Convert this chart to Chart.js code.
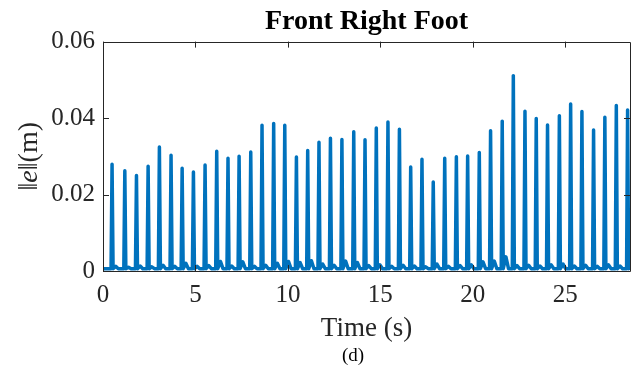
<!DOCTYPE html>
<html>
<head>
<meta charset="utf-8">
<script src="https://cdn.jsdelivr.net/npm/chart.js@4/dist/chart.umd.min.js"></script>
<style>
  html, body { margin: 0; padding: 0; background: #fff; }
  #wrap { width: 643px; height: 379px; }
</style>
</head>
<body>
<div id="wrap"><canvas id="chart" width="643" height="379"></canvas></div>
<script>
// peak times (s) and heights (m)
var peakTimes = [0.49, 1.18, 1.81, 2.44, 3.05, 3.68, 4.28, 4.89, 5.52, 6.15, 6.76, 7.36, 7.99, 8.60, 9.23,
  9.83, 10.46, 11.07, 11.68, 12.30, 12.92, 13.56, 14.17, 14.78, 15.41, 16.03, 16.64, 17.25, 17.86, 18.48,
  19.11, 19.72, 20.35, 20.96, 21.59, 22.19, 22.82, 23.43, 24.04, 24.68, 25.29, 25.90, 26.53, 27.14, 27.76, 28.37];
var peakValues = [0.0279, 0.0262, 0.0250, 0.0274, 0.0324, 0.0303, 0.0269, 0.0259, 0.0277, 0.0313, 0.0295, 0.0300,
  0.0311, 0.0381, 0.0386, 0.0381, 0.0298, 0.0315, 0.0337, 0.0347, 0.0344, 0.0364, 0.0343, 0.0374, 0.0390, 0.0371,
  0.0272, 0.0292, 0.0233, 0.0295, 0.0299, 0.0301, 0.0310, 0.0367, 0.0392, 0.0511, 0.0418, 0.0399, 0.0382, 0.0406,
  0.0437, 0.0417, 0.0369, 0.0402, 0.0433, 0.0421];
// small bump on the baseline after each step
var gapBumps = [0.0012, 0.0010, 0.0013, 0.0011, 0.0015, 0.0012, 0.0020, 0.0012, 0.0014, 0.0025, 0.0013, 0.0024,
  0.0012, 0.0015, 0.0020, 0.0025, 0.0022, 0.0027, 0.0018, 0.0015, 0.0026, 0.0022, 0.0014, 0.0016, 0.0012, 0.0015,
  0.0013, 0.0011, 0.0018, 0.0012, 0.0014, 0.0016, 0.0024, 0.0026, 0.0037, 0.0014, 0.0015, 0.0013, 0.0016, 0.0018,
  0.0013, 0.0015, 0.0012, 0.0016, 0.0013, 0.0012];
var baseLevel = 0.0006;
var xTicks = [0, 5, 10, 15, 20, 25];
var yTicks = [0, 0.02, 0.04, 0.06];

var points = [{x: 0, y: baseLevel}];
for (var i = 0; i < peakTimes.length; i++) {
  var t = peakTimes[i];
  points.push({x: t - 0.055, y: baseLevel});
  points.push({x: t, y: peakValues[i]});
  points.push({x: t + 0.055, y: baseLevel});
  points.push({x: t + 0.2, y: gapBumps[i]});
  points.push({x: t + 0.34, y: baseLevel});
}

var serif = "'Liberation Serif', 'Times New Roman', serif";
var axisColor = '#262626';

// box + inward ticks, MATLAB style
var boxTicks = {
  id: 'boxTicks',
  afterDatasetsDraw: function (chart) {
    var ctx = chart.ctx, a = chart.chartArea;
    var xs = chart.scales.x, ys = chart.scales.y;
    var len = 6;
    ctx.save();
    ctx.strokeStyle = axisColor;
    ctx.lineWidth = 1;
    ctx.beginPath();
    ctx.rect(Math.round(a.left) + 0.5, Math.round(a.top) + 0.5, Math.round(a.right - a.left), Math.round(a.bottom - a.top));
    xTicks.forEach(function (v) {
      var px = Math.round(xs.getPixelForValue(v)) + 0.5;
      ctx.moveTo(px, a.bottom); ctx.lineTo(px, a.bottom - len);
      ctx.moveTo(px, a.top); ctx.lineTo(px, a.top + len);
    });
    yTicks.forEach(function (v) {
      var py = Math.round(ys.getPixelForValue(v)) + 0.5;
      ctx.moveTo(a.left, py); ctx.lineTo(a.left + len, py);
      ctx.moveTo(a.right, py); ctx.lineTo(a.right - len, py);
    });
    ctx.stroke();
    ctx.restore();
  }
};

// y title with italic e, plus the (d) caption
var extraText = {
  id: 'extraText',
  afterDraw: function (chart) {
    var ctx = chart.ctx, a = chart.chartArea;
    ctx.save();
    ctx.fillStyle = axisColor;
    ctx.textBaseline = 'middle';
    var parts = [['‖', 'normal'], ['e', 'italic'], ['‖(m)', 'normal']];
    var w = 0;
    parts.forEach(function (p) {
      ctx.font = p[1] + ' 28px ' + serif;
      w += ctx.measureText(p[0]).width;
    });
    ctx.translate(30, (a.top + a.bottom) / 2);
    ctx.rotate(-Math.PI / 2);
    var x = -w / 2;
    ctx.textAlign = 'left';
    parts.forEach(function (p) {
      ctx.font = p[1] + ' 28px ' + serif;
      ctx.fillText(p[0], x, 0);
      x += ctx.measureText(p[0]).width;
    });
    ctx.restore();

    ctx.save();
    ctx.fillStyle = '#000';
    ctx.font = '19px ' + serif;
    ctx.textAlign = 'center';
    ctx.textBaseline = 'middle';
    ctx.fillText('(d)', 353, 356);
    ctx.restore();
  }
};

var ctx = document.getElementById('chart').getContext('2d');
window.footChart = new Chart(ctx, {
  type: 'line',
  data: {
    datasets: [{
      data: points,
      borderColor: '#0072BD',
      borderWidth: 3.5,
      borderJoinStyle: 'round',
      pointRadius: 0,
      tension: 0,
      fill: false
    }]
  },
  options: {
    responsive: false,
    animation: false,
    parsing: false,
    layout: { padding: { left: 0, right: 13, top: 0, bottom: 0 } },
    plugins: {
      legend: { display: false },
      tooltip: { enabled: false },
      title: {
        display: true,
        text: 'Front Right Foot',
        fullSize: false,
        color: '#000',
        font: { family: serif, size: 28, weight: 'bold', lineHeight: 1.2 },
        padding: { top: 5, bottom: 3 }
      }
    },
    scales: {
      x: {
        type: 'linear',
        min: 0,
        max: 28.5,
        grid: { display: false, drawTicks: false },
        border: { display: false },
        ticks: {
          stepSize: 5,
          includeBounds: false,
          padding: 9,
          color: axisColor,
          maxRotation: 0,
          font: { family: serif, size: 25 }
        },
        title: {
          display: true,
          text: 'Time (s)',
          color: axisColor,
          font: { family: serif, size: 27, lineHeight: 1.2 },
          padding: { top: 0, bottom: 34 }
        },
        afterFit: function (s) { s.height = 108; }
      },
      y: {
        min: 0,
        max: 0.06,
        grid: { display: false, drawTicks: false },
        border: { display: false },
        ticks: {
          stepSize: 0.02,
          padding: 8,
          color: axisColor,
          font: { family: serif, size: 25 },
          callback: function (v) { return v === 0 ? '0' : v.toFixed(2); }
        },
        afterFit: function (s) { s.width = 103; }
      }
    }
  },
  plugins: [boxTicks, extraText]
});
</script>
</body>
</html>
